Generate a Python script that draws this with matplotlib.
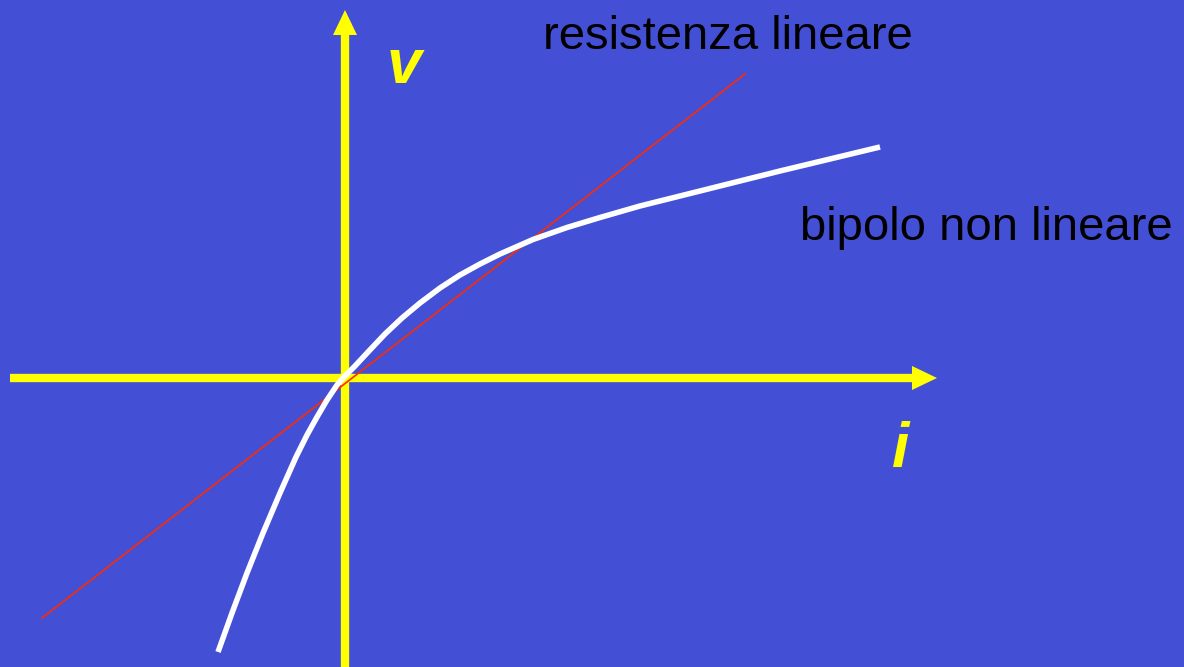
import matplotlib
matplotlib.use("Agg")
import matplotlib.pyplot as plt

W, H = 1184, 667
bg = "#4350d6"

# Nonlinear bipole curve (pixel-space coordinates of the drawing)
curve_x = [218, 232, 247, 263, 280, 296, 307, 317, 327, 337, 343, 355, 368, 385, 402, 420,
           440, 460, 480, 500, 533, 567, 600, 640, 710, 780, 880]
curve_y = [652, 613, 573, 533, 493, 457, 435, 417, 400, 385, 378, 366, 352, 334, 318, 303,
           288, 275, 264, 254, 239.5, 227.5, 217.5, 206, 188.5, 171, 147]

# Linear resistance line
line_x = [42, 745]
line_y = [618, 74]

# Axes (origin and extents)
origin = (345, 378)
h_axis = (10, 937)
v_axis = (667, 10)

labels = {"line": "resistenza lineare", "curve": "bipolo non lineare", "v": "v", "i": "i"}

fig = plt.figure(figsize=(W / 100, H / 100), dpi=100, facecolor=bg)
ax = fig.add_axes([0, 0, 1, 1])
ax.set_facecolor(bg)
ax.set_xlim(0, W)
ax.set_ylim(H, 0)
ax.axis("off")

yellow = "#ffff00"
# horizontal axis
ax.plot([h_axis[0], h_axis[1] - 24], [origin[1], origin[1]], color=yellow, lw=6, solid_capstyle="butt", zorder=2)
ax.fill([h_axis[1] - 25, h_axis[1], h_axis[1] - 25], [origin[1] - 12, origin[1], origin[1] + 12],
        color=yellow, lw=0, zorder=2)
# vertical axis
ax.plot([origin[0], origin[0]], [v_axis[0], v_axis[1] + 24], color=yellow, lw=6, solid_capstyle="butt", zorder=2)
ax.fill([origin[0] - 12, origin[0], origin[0] + 12], [v_axis[1] + 25, v_axis[1], v_axis[1] + 25],
        color=yellow, lw=0, zorder=2)

# red linear line
ax.plot(line_x, line_y, color="#ff2a00", lw=1.2, zorder=3)
# white curve
ax.plot(curve_x, curve_y, color="white", lw=4, solid_capstyle="butt", solid_joinstyle="round", zorder=4)

font = "Liberation Sans"
ax.text(543, 37, labels["line"], fontsize=34, family=font, color="black", va="center", ha="left")
ax.text(800, 228, labels["curve"], fontsize=34, family=font, color="black", va="center", ha="left")
ax.text(387, 83, labels["v"], fontsize=45, family=font, weight="bold", style="italic", color=yellow,
        va="baseline", ha="left")
ax.text(892, 467, labels["i"], fontsize=45, family=font, weight="bold", style="italic", color=yellow,
        va="baseline", ha="left")

fig.savefig("out.png", dpi=100, facecolor=bg)
